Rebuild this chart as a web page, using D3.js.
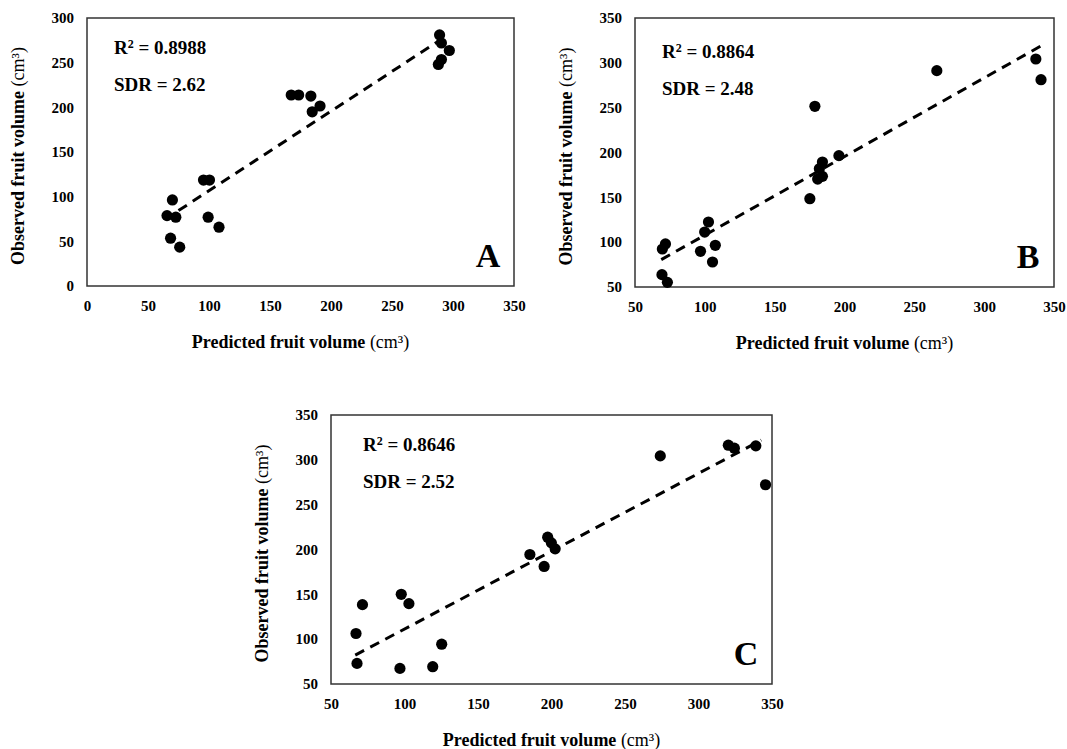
<!DOCTYPE html>
<html>
<head>
<meta charset="utf-8">
<script src="https://cdn.jsdelivr.net/npm/d3@7"></script>
<style>
  body { margin: 0; background: #fff; }
  svg text { font-family: "Liberation Serif", "Times New Roman", serif; fill: #000; }
</style>
</head>
<body>
<div id="chart"></div>
<script>
// values
var aPredicted = [289, 290.5, 297, 290.5, 288, 167.4, 173.5, 183.5, 191, 184.6, 95.5, 100.4, 70, 65.6, 72.8, 99.3, 108.2, 68.5, 76];
var aObserved  = [281, 272, 263.6, 253.5, 248, 213.8, 213.8, 212.6, 201.5, 195, 118.6, 118.6, 96.3, 78.8, 77, 77, 65.8, 53.5, 43.5];
var aTrend = [[75, 84.4], [288, 274]];

var bPredicted = [337, 340.7, 266.1, 178.8, 196, 184.2, 182, 184.2, 180.8, 175.2, 102.6, 99.9, 71.8, 69.6, 96.9, 107.5, 105.5, 69.3, 73.2];
var bObserved  = [304.3, 281.2, 291.3, 251.5, 196.5, 189.4, 182, 173.4, 170.4, 148.5, 122.5, 111.3, 98, 92.4, 89.8, 96.5, 77.9, 63.8, 55.2];
var bTrend = [[68.8, 80.5], [341.4, 319.5]];

var cPredicted = [274, 320.3, 324.4, 339, 345.6, 197.4, 199.9, 202.5, 185.3, 195, 97.8, 103, 71.4, 67, 125.3, 67.7, 96.9, 119.2];
var cObserved  = [304.4, 316.3, 313, 315.6, 272.2, 213.7, 207.4, 200.7, 194.4, 181.1, 150, 139.6, 138.5, 106.3, 94.4, 73, 67.4, 69.3];
var cTrend = [[66.5, 82.2], [342.7, 321.9]];

var aXTicks = [0, 50, 100, 150, 200, 250, 300, 350];
var aYTicks = [0, 50, 100, 150, 200, 250, 300];
var bcTicks = [50, 100, 150, 200, 250, 300, 350];

var panels = [
  { letter: "A", r2: "0.8988", sdr: "SDR = 2.62", xs: aPredicted, ys: aObserved, trend: aTrend,
    xTicks: aXTicks, yTicks: aYTicks, left: 87, top: 18, width: 427, height: 268, noteX: 114, noteDy: 0 },
  { letter: "B", r2: "0.8864", sdr: "SDR = 2.48", xs: bPredicted, ys: bObserved, trend: bTrend,
    xTicks: bcTicks, yTicks: bcTicks, left: 635, top: 18, width: 419, height: 269, noteX: 662, noteDy: 4 },
  { letter: "C", r2: "0.8646", sdr: "SDR = 2.52", xs: cPredicted, ys: cObserved, trend: cTrend,
    xTicks: bcTicks, yTicks: bcTicks, left: 331, top: 415, width: 441, height: 269, noteX: 363, noteDy: 0 }
];

var svg = d3.select("#chart").append("svg")
  .attr("width", 1067)
  .attr("height", 749);

panels.forEach(function (p) {
  var g = svg.append("g").attr("transform", `translate(${p.left}, ${p.top})`);

  var x = d3.scaleLinear()
    .domain([p.xTicks[0], p.xTicks[p.xTicks.length - 1]])
    .range([0, p.width]);
  var y = d3.scaleLinear()
    .domain([p.yTicks[0], p.yTicks[p.yTicks.length - 1]])
    .range([p.height, 0]);

  // axes, no tick marks, just bold labels
  var xAxis = g.append("g")
    .attr("transform", `translate(0, ${p.height})`)
    .call(d3.axisBottom(x).tickValues(p.xTicks).tickSize(0).tickPadding(14).tickFormat(d3.format("d")));
  var yAxis = g.append("g")
    .call(d3.axisLeft(y).tickValues(p.yTicks).tickSize(0).tickPadding(13).tickFormat(d3.format("d")));
  [xAxis, yAxis].forEach(function (ax) {
    ax.select(".domain").remove();
    ax.selectAll("text")
      .style("font-family", '"Liberation Serif", "Times New Roman", serif')
      .style("font-size", "15px")
      .style("font-weight", "bold")
      .attr("fill", "#000");
  });

  // frame
  g.append("rect")
    .attr("x", 0).attr("y", 0)
    .attr("width", p.width).attr("height", p.height)
    .attr("fill", "none")
    .attr("stroke", "#333")
    .attr("stroke-width", 1.5);

  // trend line
  g.append("line")
    .attr("x1", x(p.trend[0][0])).attr("y1", y(p.trend[0][1]))
    .attr("x2", x(p.trend[1][0])).attr("y2", y(p.trend[1][1]))
    .attr("stroke", "#000")
    .attr("stroke-width", 3)
    .attr("stroke-dasharray", "10,7");

  // points
  g.selectAll("circle")
    .data(p.xs.map(function (d, i) { return [d, p.ys[i]]; }))
    .enter()
    .append("circle")
    .attr("cx", function (d) { return x(d[0]); })
    .attr("cy", function (d) { return y(d[1]); })
    .attr("r", 5.6)
    .attr("fill", "#000");

  // R2 and SDR notes
  var r2 = g.append("text")
    .attr("x", p.noteX - p.left)
    .attr("y", 36 + p.noteDy)
    .style("font-size", "19px")
    .style("font-weight", "bold");
  r2.append("tspan").text("R");
  r2.append("tspan").attr("dy", -6).style("font-size", "12px").text("2");
  r2.append("tspan").attr("dy", 6).text(" = " + p.r2);
  g.append("text")
    .attr("x", p.noteX - p.left)
    .attr("y", 73 + p.noteDy)
    .style("font-size", "19px")
    .style("font-weight", "bold")
    .text(p.sdr);

  // panel letter
  g.append("text")
    .attr("x", p.width - 26)
    .attr("y", p.height - 19)
    .attr("text-anchor", "middle")
    .style("font-size", "34px")
    .style("font-weight", "bold")
    .text(p.letter);

  // x title
  var xt = g.append("text")
    .attr("x", p.width / 2)
    .attr("y", p.height + 62)
    .attr("text-anchor", "middle")
    .style("font-size", "18px");
  xt.append("tspan").style("font-weight", "bold").text("Predicted fruit volume ");
  xt.append("tspan").text("(cm\u00b3)");

  // y title
  var yt = g.append("text")
    .attr("transform", `translate(-63, ${p.height / 2 + 4}) rotate(-90)`)
    .attr("text-anchor", "middle")
    .style("font-size", "18px");
  yt.append("tspan").style("font-weight", "bold").text("Observed fruit volume ");
  yt.append("tspan").text("(cm\u00b3)");
});
</script>
</body>
</html>
